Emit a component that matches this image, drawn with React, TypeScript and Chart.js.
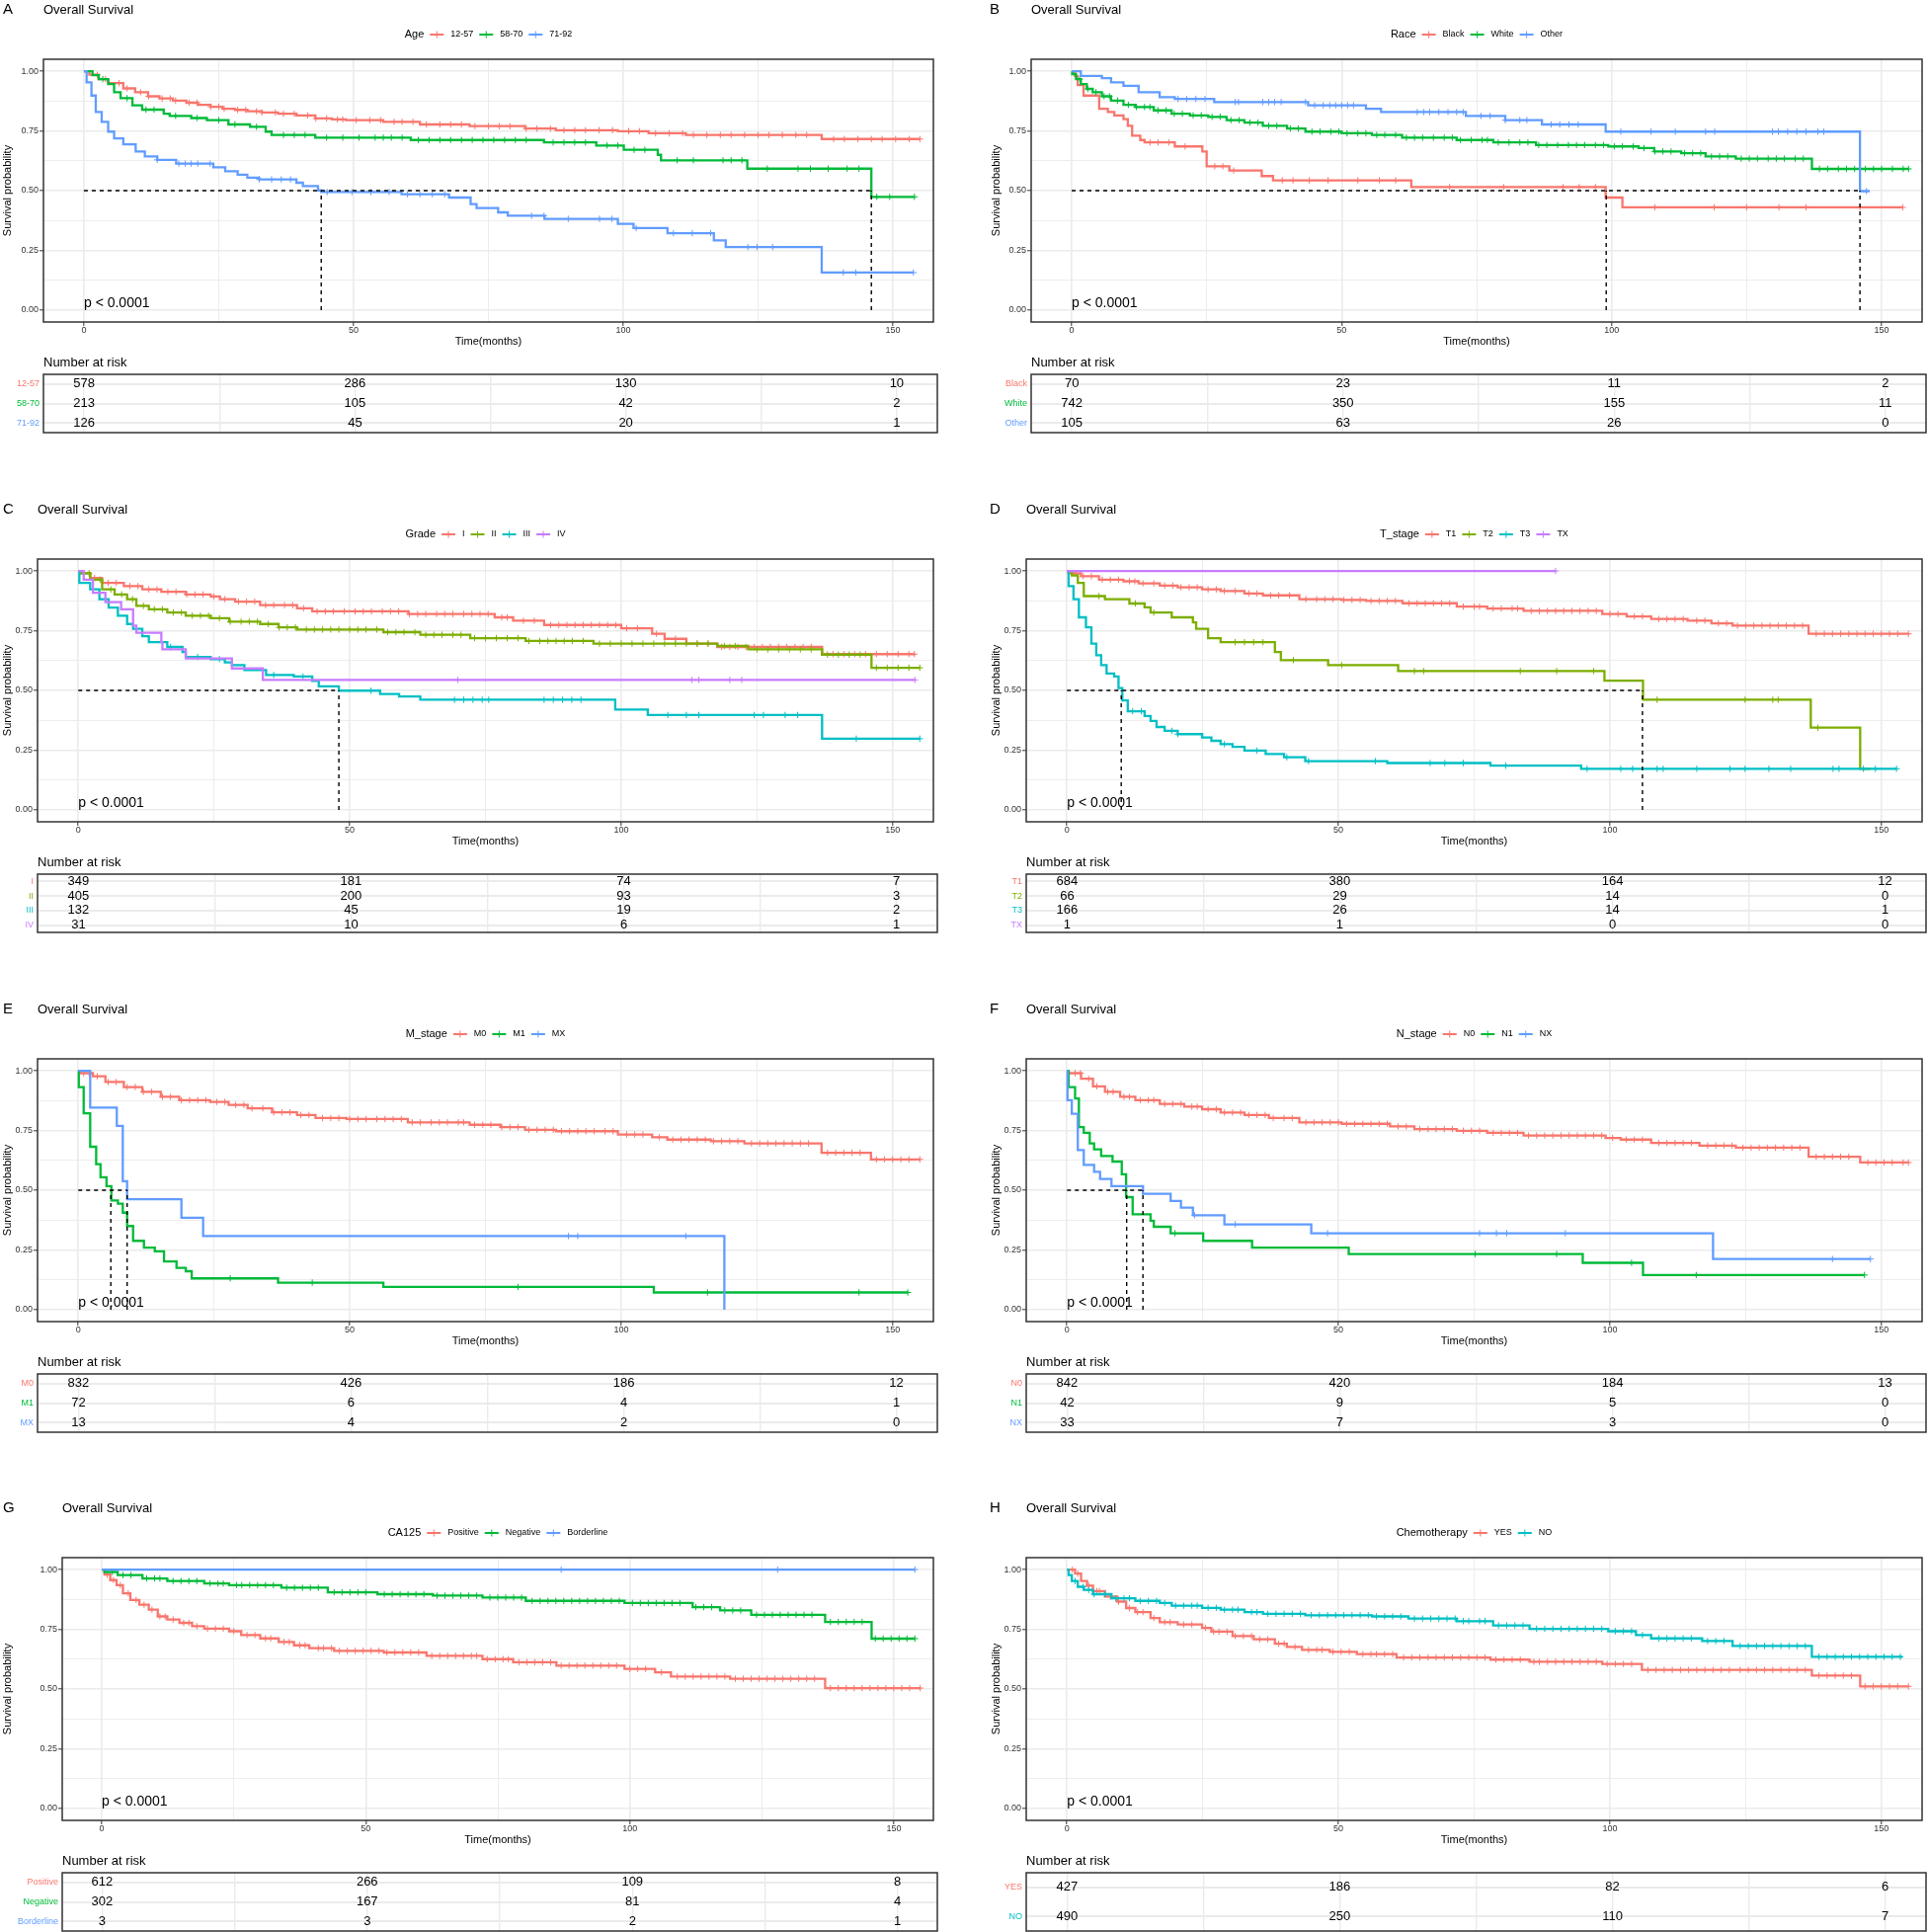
import React, { useEffect, useRef } from "react";
import { Chart, registerables } from "chart.js";

Chart.register(...registerables);

const FONT = "'Liberation Sans', Arial, Helvetica, sans-serif";
Chart.defaults.font.family = FONT;

// ---------- colours ----------
const HUE3 = ["#F8766D", "#00BA38", "#619CFF"];
const HUE4 = ["#F8766D", "#7CAE00", "#00BFC4", "#C77CFF"];
const HUE2 = ["#F8766D", "#00BFC4"];

// ---------- shared ticks ----------
const xTicks = [0, 25, 50, 75, 100, 125, 150];
const yTicks = [0, 0.125, 0.25, 0.375, 0.5, 0.625, 0.75, 0.875, 1];
const riskTimes = [0, 50, 100, 150];

// ---------- A: Age ----------
const ageGroups = ["12-57", "58-70", "71-92"];
const age1257T = [0, 1, 2.7, 4.5, 7.3, 9.5, 11.9, 14, 16.5, 19, 21.1, 23.5, 25.7, 28, 30.3, 33, 36, 39.4, 42.9, 46, 48.6, 55.5, 62.3, 71.5, 81.8, 87.5, 99, 104.7, 111.6, 136.8, 155];
const age1257S = [1, 0.985, 0.967, 0.95, 0.928, 0.912, 0.895, 0.886, 0.877, 0.868, 0.859, 0.851, 0.843, 0.838, 0.832, 0.827, 0.822, 0.815, 0.802, 0.798, 0.795, 0.788, 0.777, 0.77, 0.76, 0.753, 0.749, 0.74, 0.733, 0.716, 0.716];
const age1257C = [2.5, 4, 6.5, 8, 10.5, 12, 14.5, 16, 17, 19.5, 21, 23.5, 25, 26, 28.5, 30, 32, 33, 35.5, 37, 39, 41.5, 43, 45, 47, 48, 50.5, 53, 55, 57.5, 59, 61, 63.5, 66, 68, 70, 72.5, 75, 77, 79, 82, 84, 86.5, 89, 91, 93, 95.5, 98, 101, 103, 106, 108.5, 111, 113, 115.5, 118, 120, 122.5, 125, 127, 129.5, 132, 134, 139, 141, 143.5, 146, 148, 150.5, 153, 155];
const age5870T = [0, 1.6, 2.75, 4.5, 5.6, 6.8, 9, 10.8, 14.8, 15.9, 19.9, 22.8, 26.8, 30.8, 33.7, 34.8, 42.9, 60.6, 85.3, 95, 100.1, 106.4, 107, 123, 146, 154];
const age5870S = [1, 0.983, 0.967, 0.946, 0.912, 0.887, 0.857, 0.839, 0.822, 0.813, 0.804, 0.795, 0.777, 0.767, 0.747, 0.733, 0.722, 0.712, 0.702, 0.689, 0.671, 0.65, 0.627, 0.592, 0.474, 0.474];
const age5870C = [3.5, 8, 11.5, 13, 17, 21, 25, 28, 32, 37, 39, 41, 45, 48, 51, 54, 55.5, 57, 59, 62, 64, 66, 68, 70, 72, 74, 76, 78, 80, 82, 87, 89, 91, 93, 97, 99, 102, 104, 110, 113, 118.5, 120, 122, 126.7, 132.4, 134.7, 138, 141.5, 143.7, 147, 149.4, 154];
const age7192T = [0, 0.5, 1.4, 2.2, 3.3, 4.5, 5.6, 7.3, 9.6, 11.3, 13.6, 17.1, 24, 26.2, 28.5, 30.3, 32.5, 39.4, 40.6, 43.4, 44, 58.9, 67.7, 71.7, 72.8, 76.8, 78.6, 85.4, 99, 101.9, 108.2, 116.8, 119, 136.8, 153.8];
const age7192S = [1, 0.953, 0.898, 0.829, 0.788, 0.747, 0.719, 0.694, 0.664, 0.643, 0.629, 0.613, 0.598, 0.581, 0.567, 0.554, 0.547, 0.533, 0.519, 0.501, 0.494, 0.485, 0.471, 0.444, 0.427, 0.409, 0.395, 0.382, 0.361, 0.343, 0.322, 0.292, 0.264, 0.157, 0.157];
const age7192C = [13.6, 17.6, 18.8, 19.9, 21.1, 23.4, 32.5, 34.8, 36.6, 38.3, 45.1, 49.7, 53.2, 56.6, 60, 62.3, 64.6, 66.9, 83, 85.3, 89.8, 95.6, 97.9, 102.4, 109.3, 112.8, 116.2, 123.1, 124.8, 127.7, 140.8, 143.1, 153.8];
const ageRisk = [[578, 286, 130, 10], [213, 105, 42, 2], [126, 45, 20, 1]];
const ageMedians = [44, 146];

// ---------- B: Race ----------
const raceGroups = ["Black", "White", "Other"];
const raceBlackT = [0, 0.6, 1.1, 2.2, 5.1, 6.7, 7.9, 9.6, 10.4, 11.2, 12.7, 13.5, 19.1, 24.2, 25, 29.2, 35.2, 37.3, 62.9, 98.9, 102, 153.9];
const raceBlackS = [1, 0.98, 0.942, 0.898, 0.843, 0.829, 0.815, 0.799, 0.771, 0.73, 0.712, 0.702, 0.685, 0.664, 0.602, 0.584, 0.561, 0.543, 0.515, 0.471, 0.43, 0.43];
const raceBlackC = [14.5, 16, 18, 21, 26.5, 28, 30, 39, 41, 44, 47.5, 53, 57, 60, 70, 80, 91, 94, 97, 108, 119, 125, 131, 136, 146, 153.9];
const raceWhiteT = [0, 0.1, 0.8, 1.7, 2.8, 3.9, 5.6, 7.3, 9.6, 11.8, 15.2, 18.5, 21.9, 25.3, 28.7, 32, 35.4, 39.9, 43.3, 50, 55.6, 61.2, 71.3, 78.1, 86, 99.4, 105, 107.9, 112.9, 117.4, 123, 137.1, 155];
const raceWhiteS = [1, 0.988, 0.967, 0.946, 0.926, 0.912, 0.895, 0.877, 0.859, 0.85, 0.836, 0.822, 0.815, 0.809, 0.795, 0.785, 0.771, 0.76, 0.747, 0.74, 0.733, 0.722, 0.712, 0.702, 0.691, 0.685, 0.678, 0.664, 0.657, 0.643, 0.634, 0.591, 0.591];
const raceWhiteC = [1.5, 3, 4.5, 6, 7, 8.5, 10.5, 12, 13.5, 14.5, 16, 17.5, 19, 20.5, 22.5, 24, 26, 27.5, 29.5, 31, 33, 34.5, 36.5, 38, 40.5, 42, 44.5, 46, 48, 49.5, 51, 53, 54.5, 56.5, 58, 60, 62, 63.5, 65, 67, 69, 70.5, 72, 74, 76, 77, 79, 81, 83, 84.5, 86.5, 88, 90, 92, 93.5, 95, 97, 98.5, 100.5, 102, 104, 106, 108, 109.5, 111, 113.5, 115, 116.5, 118.5, 120, 121.5, 124, 125.5, 127, 129, 130.5, 132, 134, 135.5, 138.5, 140, 142, 143.5, 145, 147, 148.5, 150, 152, 154, 155];
const raceOtherT = [0, 1.7, 5.6, 7.3, 9.6, 12.4, 16.3, 19.1, 26.4, 43.8, 54.5, 57.3, 73, 80.3, 87.1, 98.9, 146, 147.8];
const raceOtherS = [1, 0.98, 0.971, 0.953, 0.939, 0.912, 0.891, 0.884, 0.871, 0.857, 0.843, 0.829, 0.813, 0.795, 0.777, 0.747, 0.498, 0.498];
const raceOtherC = [19.7, 21.3, 23, 24.7, 30.3, 30.9, 35.4, 36.5, 37.6, 38.8, 43.3, 45, 46.6, 47.8, 48.9, 50, 51.1, 52.2, 64, 65.2, 66.3, 68, 69.7, 71.3, 72.5, 75.8, 77.5, 80.3, 83, 84.3, 88.8, 90.4, 92.1, 93.8, 101.7, 107.3, 111.8, 117.4, 119.1, 129.8, 130.9, 132.6, 134.3, 136, 138.2, 139.3, 147.2];
const raceRisk = [[70, 23, 11, 2], [742, 350, 155, 11], [105, 63, 26, 0]];
const raceMedians = [99, 146];

// ---------- C: Grade ----------
const gradeGroups = ["I", "II", "III", "IV"];
const gradeIT = [0, 0.5, 2.2, 4.4, 8.4, 11.8, 15.3, 19.8, 24.4, 26.1, 28.9, 33.5, 40.3, 43.1, 60.8, 76.7, 80.1, 85.8, 100, 105.7, 108, 112, 117.7, 137, 154.1];
const gradeIS = [1, 0.992, 0.971, 0.95, 0.937, 0.923, 0.913, 0.902, 0.893, 0.882, 0.872, 0.857, 0.844, 0.831, 0.82, 0.806, 0.792, 0.774, 0.76, 0.737, 0.716, 0.696, 0.682, 0.652, 0.652];
const gradeIC = [3, 5.5, 7, 9.5, 11, 13, 14.5, 16.5, 18, 20, 21.5, 23, 25, 27, 29.5, 31, 32.5, 34.5, 36, 38, 39.5, 41.5, 44, 45.5, 47, 49, 51, 52.5, 54, 56, 57.5, 59, 61, 62.5, 64, 66, 67.5, 69, 71, 72.5, 74, 75.5, 78, 79, 82, 84, 87, 88.5, 90, 91.5, 93, 94.5, 96, 97.5, 99, 101, 103, 106.5, 110, 114, 116, 118.5, 120, 121.5, 123, 124.5, 126, 127.5, 129, 130.5, 132, 133.5, 135, 139, 141, 143, 145, 147, 149, 151, 153, 154];
const gradeIIT = [0, 0.5, 2.2, 4.4, 6.7, 9, 10.7, 13, 16.4, 19.8, 24.4, 27.8, 33.5, 36.9, 40.3, 56.2, 63, 72.2, 82.4, 94.9, 117.7, 123.4, 137, 146.1, 155];
const gradeIIS = [1, 0.99, 0.964, 0.923, 0.902, 0.882, 0.854, 0.84, 0.826, 0.813, 0.802, 0.788, 0.778, 0.764, 0.755, 0.744, 0.733, 0.719, 0.707, 0.696, 0.686, 0.672, 0.65, 0.595, 0.595];
const gradeIIC = [2, 4, 6, 8, 10, 12, 14, 15.5, 17.5, 19, 21, 22.5, 24, 26, 28, 30, 31.5, 33, 35, 37, 38.5, 40, 42, 43.5, 45, 46.5, 48, 50, 51.5, 53, 55, 57, 58.5, 60, 62, 64, 65.5, 67, 69, 70.5, 73, 75, 77, 79, 81, 83, 85, 86.5, 88, 89.5, 91, 93, 96, 98, 100, 102, 104, 106, 108, 110, 112, 114, 116, 119, 121, 125, 127, 129, 131, 133, 135, 138, 140, 142, 144, 147, 149, 151, 153, 155];
const gradeIIIT = [0, 0.2, 2.2, 3.9, 5.6, 7.3, 9, 10.1, 11.8, 13, 16.4, 19.2, 19.8, 24.4, 27, 28.3, 30.6, 34.6, 39.7, 43.1, 44.3, 48, 55.6, 59.1, 63, 98.9, 104.9, 137, 155];
const gradeIIIS = [1, 0.95, 0.923, 0.882, 0.847, 0.813, 0.778, 0.758, 0.727, 0.702, 0.682, 0.661, 0.64, 0.631, 0.617, 0.606, 0.585, 0.565, 0.558, 0.54, 0.517, 0.499, 0.485, 0.475, 0.461, 0.42, 0.397, 0.298, 0.298];
const gradeIIIC = [17, 22, 26, 36, 41.4, 53.9, 69.3, 71, 72.7, 74.4, 75.6, 85.8, 87.5, 89.2, 90.9, 92.6, 108.6, 112, 114.3, 124.5, 126.2, 130.2, 132.5, 143.3, 155];
const gradeIVT = [0, 1, 2.7, 5, 7.9, 10.1, 10.7, 15.3, 15.5, 19.8, 28.3, 34, 154.1];
const gradeIVS = [1, 0.964, 0.909, 0.87, 0.84, 0.771, 0.741, 0.702, 0.672, 0.634, 0.592, 0.544, 0.544];
const gradeIVC = [69.9, 113, 114.3, 120, 122.2, 154.1];
const gradeRisk = [[349, 181, 74, 7], [405, 200, 93, 3], [132, 45, 19, 2], [31, 10, 6, 1]];
const gradeMedians = [48];

// ---------- D: T stage ----------
const tGroups = ["T1", "T2", "T3", "TX"];
const t1T = [0, 0.3, 2.6, 5.9, 10.4, 13.2, 17.1, 20.4, 24.9, 28.3, 32.7, 36.1, 42.8, 50.6, 55.1, 61.8, 71.8, 77.4, 84.1, 98.6, 103.1, 107.6, 114.3, 118.7, 122.6, 136.6, 155];
const t1S = [1, 0.99, 0.978, 0.964, 0.957, 0.948, 0.939, 0.932, 0.923, 0.916, 0.906, 0.898, 0.882, 0.879, 0.875, 0.865, 0.851, 0.843, 0.833, 0.82, 0.81, 0.799, 0.792, 0.781, 0.771, 0.737, 0.737];
const t1C = [1.5, 3, 4.5, 6.5, 8, 9.5, 11.5, 12.5, 14, 16, 18, 19.5, 21, 22.5, 24, 26, 27.5, 29, 31, 33.5, 35, 37.5, 39, 41, 44, 46, 47.5, 49, 51, 52.5, 54, 56, 57.5, 59, 60.5, 63, 64.5, 66, 67.5, 69, 70.5, 73, 75, 76, 78.5, 80, 82, 83, 85.5, 87, 88.5, 90, 91.5, 93, 94.5, 96, 97.5, 100, 101.5, 104.5, 106, 109, 110.5, 112, 113.5, 116, 117.5, 120, 121.5, 123.5, 125, 126.5, 128, 129.5, 131, 132.5, 134, 135.5, 138, 139.5, 141, 142.5, 144, 145.5, 147, 148.5, 150, 151.5, 153, 155];
const t2T = [0, 0.9, 2, 3.1, 7, 11.5, 14.3, 15.4, 19.3, 23.2, 23.8, 26, 28.3, 38.3, 39.4, 48.1, 61, 99, 106.1, 137, 146.1, 148];
const t2S = [1, 0.981, 0.95, 0.895, 0.882, 0.864, 0.848, 0.826, 0.806, 0.785, 0.758, 0.719, 0.702, 0.661, 0.627, 0.606, 0.581, 0.541, 0.461, 0.344, 0.172, 0.172];
const t2C = [5.9, 12.6, 16, 31, 32.7, 34.4, 36.1, 41.7, 50.6, 64, 65.7, 83.5, 90.2, 97, 108.7, 124.9, 130, 131, 138.3];
const t3T = [0, 0.3, 1.2, 2.2, 3.5, 4.5, 5.4, 6.3, 7.3, 8.7, 9.5, 10.2, 11.2, 14.3, 15.4, 16.5, 18, 20.4, 24.9, 26.6, 28.3, 30.5, 32.7, 36.6, 40, 43.9, 59, 78, 94.7, 152.8];
const t3S = [1, 0.937, 0.882, 0.806, 0.764, 0.696, 0.647, 0.606, 0.571, 0.558, 0.51, 0.458, 0.413, 0.393, 0.372, 0.347, 0.331, 0.317, 0.303, 0.289, 0.275, 0.264, 0.248, 0.234, 0.22, 0.204, 0.196, 0.185, 0.172, 0.172];
const t3C = [12.1, 13.7, 19.3, 20.4, 29, 35, 40.5, 44.5, 56.8, 66.9, 69.6, 73, 80.8, 95.8, 102, 104.2, 108.7, 109.8, 116, 122.1, 124.9, 129.3, 133.3, 141.1, 142.2, 146.7, 148.9, 152.8];
const txT = [0, 90];
const txS = [1, 1];
const txC = [90];
const tRisk = [[684, 380, 164, 12], [66, 29, 14, 0], [166, 26, 14, 1], [1, 1, 0, 0]];
const tMedians = [10, 106];

// ---------- E: M stage ----------
const mGroups = ["M0", "M1", "MX"];
const m0T = [0, 0.4, 2.7, 5, 8.4, 11.8, 15.2, 18.6, 24.3, 27.7, 31.2, 35.7, 40.3, 43.7, 49.4, 60.7, 72.1, 77.8, 82.3, 88, 99.4, 105.7, 108.5, 116.5, 122.7, 136.9, 146, 155.1];
const m0S = [1, 0.99, 0.977, 0.953, 0.932, 0.912, 0.891, 0.877, 0.87, 0.857, 0.843, 0.826, 0.815, 0.802, 0.798, 0.784, 0.774, 0.764, 0.753, 0.747, 0.733, 0.722, 0.712, 0.705, 0.696, 0.657, 0.629, 0.629];
const m0C = [1, 2, 3.5, 5.5, 7, 9, 10.5, 12, 13.5, 15.5, 17, 19, 20.5, 22, 23.5, 25.5, 27, 29, 30.5, 32, 34, 36, 37.5, 39, 41, 42.5, 45, 46.5, 48, 50, 51.5, 53, 55, 56.5, 58, 59.5, 61.5, 63, 65, 66.5, 68, 70, 71, 73, 74.5, 76, 78, 79.5, 81, 83, 84.5, 86, 87.5, 89, 90.5, 92, 93.5, 95, 97, 98.5, 101, 102.5, 104, 107, 109.5, 111, 112.5, 114, 115.5, 117, 118.5, 120, 121.5, 124, 125.5, 127, 128.5, 130, 131.5, 133, 134.5, 138, 139.5, 141, 142.5, 144, 147, 148.5, 150, 151.5, 153, 155];
const m1T = [0, 0.1, 1, 2.2, 3.3, 4.1, 5.2, 6.1, 7.3, 8.2, 9, 10.1, 12.1, 14.1, 15.8, 18.1, 19.8, 20.9, 36.8, 56.2, 106, 152.8];
const m1S = [1, 0.932, 0.822, 0.682, 0.609, 0.554, 0.517, 0.457, 0.444, 0.406, 0.35, 0.288, 0.26, 0.244, 0.202, 0.175, 0.161, 0.131, 0.113, 0.095, 0.072, 0.072];
const m1C = [28, 43.1, 81, 115.9, 143.8, 152.8];
const mxT = [0, 2.2, 7.1, 8.2, 9, 19, 23, 119];
const mxS = [1, 0.846, 0.769, 0.538, 0.462, 0.385, 0.308, 0];
const mxC = [90.3, 92, 111.9];
const mRisk = [[832, 426, 186, 12], [72, 6, 4, 1], [13, 4, 2, 0]];
const mMedians = [6, 9];

// ---------- F: N stage ----------
const nGroups = ["N0", "N1", "NX"];
const n0T = [0, 0.3, 2.6, 4.8, 7, 9.8, 12.6, 17.1, 21.6, 24.9, 28.3, 32.7, 37.2, 42.8, 50.6, 59.5, 64, 71.8, 77.4, 84.1, 99.2, 102, 107.6, 116.5, 123.2, 136.6, 146.1, 155];
const n0S = [1, 0.99, 0.967, 0.935, 0.912, 0.891, 0.877, 0.861, 0.85, 0.839, 0.825, 0.815, 0.802, 0.784, 0.778, 0.767, 0.756, 0.749, 0.74, 0.729, 0.719, 0.712, 0.698, 0.687, 0.678, 0.64, 0.616, 0.616];
const n0C = [1.5, 2.5, 4, 5.5, 7.5, 8.5, 10.5, 11.5, 13.5, 15, 16, 18, 19.5, 21, 23, 24, 26, 27.5, 29, 30.5, 32, 33.5, 35, 36.5, 38, 40, 41.5, 44, 45.5, 47, 48.5, 50, 51.5, 53, 54.5, 56, 57.5, 59, 61, 62.5, 65, 66.5, 68, 69.5, 71, 73, 74.5, 76, 78.5, 80, 81.5, 83, 85, 86.5, 88, 89.5, 91, 92.5, 94, 95.5, 97, 98.5, 100.5, 103, 104.5, 106, 109, 110.5, 112, 113.5, 115, 118, 119.5, 121, 122.5, 124.5, 126, 127.5, 129, 130.5, 132, 133.5, 135, 138, 139.5, 141, 142.5, 144, 147.5, 149, 150.5, 152, 154, 155];
const n1T = [0, 0.3, 1.5, 2.2, 3.1, 4.2, 5, 6.3, 8.4, 10.1, 10.9, 12.1, 15.4, 16, 19.1, 25.1, 34.1, 51.9, 95, 106.1, 146.9];
const n1S = [1, 0.932, 0.884, 0.764, 0.74, 0.696, 0.671, 0.643, 0.62, 0.567, 0.471, 0.399, 0.372, 0.347, 0.32, 0.288, 0.26, 0.233, 0.196, 0.145, 0.145];
const n1C = [19.9, 75.2, 90.2, 104, 115.9, 146.9];
const nxT = [0, 0.1, 0.9, 2, 3.1, 5, 6.1, 8.2, 14, 19.1, 21, 23.2, 29, 45, 119, 148];
const nxS = [1, 0.877, 0.82, 0.668, 0.606, 0.577, 0.547, 0.517, 0.485, 0.455, 0.427, 0.395, 0.357, 0.32, 0.212, 0.212];
const nxC = [23.5, 31, 48, 76, 79.1, 81, 91.8, 141, 148];
const nRisk = [[842, 420, 184, 13], [42, 9, 5, 0], [33, 7, 3, 0]];
const nMedians = [11, 14];

// ---------- G: CA125 ----------
const caGroups = ["Positive", "Negative", "Borderline"];
const posT = [0, 0.5, 1.6, 2.8, 4, 5.4, 7.1, 8.9, 10.6, 12.4, 14.7, 17.1, 19.4, 24.1, 26.4, 30, 33.5, 36.4, 39.3, 44, 53.4, 61.5, 72.1, 77.9, 86.1, 99, 104.8, 107.8, 119, 137, 155.1];
const posS = [1, 0.979, 0.956, 0.935, 0.901, 0.873, 0.853, 0.832, 0.804, 0.791, 0.777, 0.763, 0.753, 0.742, 0.726, 0.712, 0.697, 0.683, 0.671, 0.66, 0.653, 0.639, 0.625, 0.612, 0.598, 0.584, 0.57, 0.552, 0.543, 0.504, 0.504];
const posC = [1, 2.2, 3.5, 5, 6.5, 8, 9.5, 11, 12, 13.5, 15.5, 16.5, 18, 20, 21.5, 23, 25, 27.5, 29, 31, 32, 34.5, 35.5, 37.5, 38.5, 41, 42, 43.5, 45, 46.5, 48, 49.5, 51, 52.5, 54, 55.5, 57, 58.5, 60, 62.5, 64, 65.5, 67, 68.5, 70, 71, 73, 74.5, 76, 77, 79, 80.5, 82, 83.5, 85, 87, 88.5, 90, 91.5, 93, 94.5, 96, 97.5, 100, 101.5, 103, 106, 109, 110.5, 112, 113.5, 115, 116.5, 118, 120, 121.5, 123, 124.5, 126, 127.5, 129, 130.5, 132, 133.5, 135, 138, 139.5, 141, 142.5, 144, 145.5, 147, 148.5, 150, 151.5, 153, 155];
const negT = [0, 0.5, 3, 7.7, 12.4, 19.4, 24.1, 34, 42.8, 52.2, 62.7, 72.1, 80.3, 99, 111.9, 117.1, 123, 137, 145.8, 154];
const negS = [1, 0.99, 0.977, 0.963, 0.952, 0.942, 0.935, 0.924, 0.905, 0.897, 0.891, 0.883, 0.869, 0.86, 0.843, 0.829, 0.811, 0.781, 0.711, 0.711];
const negC = [2, 4, 5.5, 8.5, 10, 11, 13.5, 15, 16.5, 18, 20.5, 22, 23, 25.5, 26.5, 28, 29.5, 31, 32.5, 35, 36.5, 38, 39.5, 41, 44, 45.5, 47, 48.5, 50, 53.5, 55, 56.5, 58, 59.5, 61, 63.5, 65, 66.5, 68, 69.5, 71, 73.5, 75, 76.5, 78, 79.5, 81.5, 83, 84.5, 86, 87.5, 89, 90.5, 92, 93.5, 95, 96.5, 98, 100.5, 102, 103.5, 105, 106.5, 108, 109.5, 112.5, 114, 115.5, 118, 119.5, 121, 124, 125.5, 127, 128.5, 130, 131.5, 133, 134.5, 138, 139.5, 141, 142.5, 144, 146.5, 148, 149.5, 151, 152.5, 154];
const bordT = [0, 154];
const bordS = [1, 1];
const bordC = [87, 128, 154];
const caRisk = [[612, 266, 109, 8], [302, 167, 81, 4], [3, 3, 2, 1]];
const caMedians: number[] = [];

// ---------- H: Chemotherapy ----------
const chemoGroups = ["YES", "NO"];
const yesT = [0, 1.5, 2.6, 3.7, 4.8, 7, 9.3, 10.9, 12.6, 15.4, 17.1, 20.4, 24.9, 26.6, 30.5, 34.4, 38.3, 40.5, 43.3, 48.4, 53.4, 60.7, 78, 85.2, 98.6, 105.9, 137.2, 146.1, 155];
const yesS = [1, 0.983, 0.952, 0.933, 0.91, 0.887, 0.866, 0.839, 0.822, 0.797, 0.78, 0.77, 0.756, 0.74, 0.722, 0.708, 0.69, 0.676, 0.664, 0.656, 0.646, 0.632, 0.623, 0.614, 0.605, 0.58, 0.556, 0.511, 0.511];
const yesC = [1, 2, 4, 5.5, 6, 8, 9.5, 11.5, 13, 14, 16, 18, 19, 21.5, 23, 25.5, 27, 28, 29.5, 31, 32.5, 34, 35.5, 37, 39, 40, 42, 44.5, 46, 47, 49, 50.5, 52, 54.5, 56, 57, 58.5, 60, 62, 63.5, 65, 66.5, 68, 69.5, 71, 72.5, 74, 75.5, 77, 79, 80.5, 82, 83.5, 86, 87, 88.5, 90, 91.5, 93, 94.5, 96, 97.5, 99.5, 101, 102.5, 104, 107, 108.5, 110, 111.5, 113, 114.5, 116, 117.5, 119, 120.5, 122, 124, 125.5, 127, 128.5, 130, 131.5, 133, 134.5, 136, 138.5, 140, 141.5, 143, 144.5, 147, 148.5, 150, 151.5, 153, 155];
const noT = [0, 0.3, 0.9, 2, 3.1, 4.8, 8.2, 12.6, 17.1, 19.3, 24.9, 28.3, 32.7, 36.1, 43.9, 56.2, 62.9, 71.8, 78.5, 85.2, 99.7, 104.8, 107.6, 117, 122.6, 137.2, 153.9];
const noS = [1, 0.977, 0.952, 0.928, 0.915, 0.897, 0.88, 0.869, 0.86, 0.849, 0.84, 0.832, 0.822, 0.815, 0.809, 0.804, 0.795, 0.784, 0.766, 0.752, 0.742, 0.726, 0.712, 0.701, 0.68, 0.635, 0.635];
const noC = [1.5, 3, 4, 5, 7, 9, 10.5, 11.5, 13.5, 15, 16.5, 18, 20, 21.5, 23, 24, 26, 27.5, 29, 30.5, 31.5, 34, 35, 37, 38.5, 40, 41.5, 43, 45, 46.5, 48, 49.5, 51, 52.5, 54, 55.5, 57, 58.5, 60, 61.5, 64, 65.5, 67, 68.5, 70, 71.5, 73, 74, 76, 77, 79.5, 81, 82.5, 84, 86.5, 88, 89.5, 91, 92.5, 94, 95.5, 97, 98.5, 101, 102.5, 104, 106, 109, 110.5, 112, 113.5, 115, 118, 119.5, 121, 124, 125.5, 127, 128.5, 130, 131.5, 133, 134.5, 136, 138.5, 140, 141.5, 143, 144.5, 146, 147.5, 149, 150.5, 152, 153.5];
const chemoRisk = [[427, 186, 82, 6], [490, 250, 110, 7]];
const chemoMedians: number[] = [];

// ---------- layout ----------
const COL_X0 = [0, 1001];
const COL_RIGHT = [949, 1950];
const ROW_TOP = [60, 566, 1072, 1577];
const PLOT_H = 266;
const KM_PAD_TOP = 60;
const KM_AXIS_H = 30;
const TB_GAP = 30;
const TB_PAD_TOP = 23;
const TB_H = 59;

type Group = { name: string; color: string; t: number[]; s: number[]; c: number[]; risk: number[] };
type PanelDef = { letter: string; legendTitle: string; groups: Group[]; medians: number[]; col: number; row: number; plotLeft: number };

function mk(names: string[], colors: string[], ts: number[][], ss: number[][], cs: number[][], risks: number[][]): Group[] {
  return names.map((n, i) => ({ name: n, color: colors[i], t: ts[i], s: ss[i], c: cs[i], risk: risks[i] }));
}

const PANELS: PanelDef[] = [
  { letter: "A", legendTitle: "Age", col: 0, row: 0, plotLeft: 44, medians: ageMedians,
    groups: mk(ageGroups, HUE3, [age1257T, age5870T, age7192T], [age1257S, age5870S, age7192S], [age1257C, age5870C, age7192C], ageRisk) },
  { letter: "B", legendTitle: "Race", col: 1, row: 0, plotLeft: 1044, medians: raceMedians,
    groups: mk(raceGroups, HUE3, [raceBlackT, raceWhiteT, raceOtherT], [raceBlackS, raceWhiteS, raceOtherS], [raceBlackC, raceWhiteC, raceOtherC], raceRisk) },
  { letter: "C", legendTitle: "Grade", col: 0, row: 1, plotLeft: 38, medians: gradeMedians,
    groups: mk(gradeGroups, HUE4, [gradeIT, gradeIIT, gradeIIIT, gradeIVT], [gradeIS, gradeIIS, gradeIIIS, gradeIVS], [gradeIC, gradeIIC, gradeIIIC, gradeIVC], gradeRisk) },
  { letter: "D", legendTitle: "T_stage", col: 1, row: 1, plotLeft: 1039, medians: tMedians,
    groups: mk(tGroups, HUE4, [t1T, t2T, t3T, txT], [t1S, t2S, t3S, txS], [t1C, t2C, t3C, txC], tRisk) },
  { letter: "E", legendTitle: "M_stage", col: 0, row: 2, plotLeft: 38, medians: mMedians,
    groups: mk(mGroups, HUE3, [m0T, m1T, mxT], [m0S, m1S, mxS], [m0C, m1C, mxC], mRisk) },
  { letter: "F", legendTitle: "N_stage", col: 1, row: 2, plotLeft: 1039, medians: nMedians,
    groups: mk(nGroups, HUE3, [n0T, n1T, nxT], [n0S, n1S, nxS], [n0C, n1C, nxC], nRisk) },
  { letter: "G", legendTitle: "CA125", col: 0, row: 3, plotLeft: 63, medians: caMedians,
    groups: mk(caGroups, HUE3, [posT, negT, bordT], [posS, negS, bordS], [posC, negC, bordC], caRisk) },
  { letter: "H", legendTitle: "Chemotherapy", col: 1, row: 3, plotLeft: 1039, medians: chemoMedians,
    groups: mk(chemoGroups, HUE2, [yesT, noT], [yesS, noS], [yesC, noC], chemoRisk) },
];

function stepAt(t: number[], s: number[], c: number): number {
  let v = s[0];
  for (let i = 0; i < t.length; i++) {
    if (t[i] <= c) v = s[i];
    else break;
  }
  return v;
}

const isMajorX = (v: number) => Math.round(v) % 50 === 0;
const isMajorY = (v: number) => Math.round(v * 1000) % 250 === 0;

function makeKmDecor(p: PanelDef) {
  return {
    id: "kmDecor",
    afterDraw(chart: any) {
      const ctx = chart.ctx as CanvasRenderingContext2D;
      const a = chart.chartArea;
      const xs = chart.scales.x;
      const ys = chart.scales.y;
      const x0 = COL_X0[p.col];
      ctx.save();
      ctx.strokeStyle = "#333333";
      ctx.lineWidth = 1.5;
      ctx.strokeRect(a.left, a.top, a.right - a.left, a.bottom - a.top);
      ctx.fillStyle = "#000";
      ctx.textAlign = "left";
      ctx.textBaseline = "middle";
      ctx.font = `14px ${FONT}`;
      ctx.fillText("p < 0.0001", xs.getPixelForValue(0), ys.getPixelForValue(0.027));
      ctx.font = `15px ${FONT}`;
      ctx.fillText(p.letter, (p.col === 0 ? 3 : 1002) - x0, a.top - 50);
      ctx.font = `13px ${FONT}`;
      ctx.fillText("Overall Survival", a.left, a.top - 50);
      const cy = a.top - 25;
      const cx = (a.left + a.right) / 2;
      ctx.font = `11px ${FONT}`;
      const tw = ctx.measureText(p.legendTitle).width;
      ctx.font = `9px ${FONT}`;
      const lw = p.groups.map((g) => ctx.measureText(g.name).width);
      const SYM = 14, G1 = 6, G2 = 7;
      let total = tw;
      lw.forEach((w) => (total += G1 + SYM + G2 + w));
      let x = cx - total / 2;
      ctx.font = `11px ${FONT}`;
      ctx.fillStyle = "#000";
      ctx.fillText(p.legendTitle, x, cy);
      x += tw;
      ctx.font = `9px ${FONT}`;
      p.groups.forEach((g, i) => {
        x += G1;
        ctx.strokeStyle = g.color;
        ctx.lineWidth = 2;
        ctx.beginPath();
        ctx.moveTo(x, cy);
        ctx.lineTo(x + SYM, cy);
        ctx.stroke();
        ctx.lineWidth = 1;
        ctx.beginPath();
        ctx.moveTo(x + SYM / 2, cy - 3.5);
        ctx.lineTo(x + SYM / 2, cy + 3.5);
        ctx.stroke();
        x += SYM + G2;
        ctx.fillStyle = "#000";
        ctx.fillText(g.name, x, cy);
        x += lw[i];
      });
      ctx.restore();
    },
  };
}

function makeRiskDecor(p: PanelDef) {
  return {
    id: "riskDecor",
    afterDraw(chart: any) {
      const ctx = chart.ctx as CanvasRenderingContext2D;
      const a = chart.chartArea;
      ctx.save();
      ctx.fillStyle = "#000";
      ctx.textAlign = "center";
      ctx.textBaseline = "middle";
      ctx.font = `13px ${FONT}`;
      p.groups.forEach((g, i) => {
        const meta = chart.getDatasetMeta(i);
        meta.data.forEach((pt: any, j: number) => {
          ctx.fillText(String(g.risk[j]), pt.x, pt.y);
        });
      });
      ctx.strokeStyle = "#333333";
      ctx.lineWidth = 1.5;
      ctx.strokeRect(a.left, a.top, a.right - a.left, a.bottom - a.top);
      ctx.textAlign = "left";
      ctx.fillText("Number at risk", a.left, a.top - 11.5);
      ctx.restore();
    },
  };
}

function xScaleBase() {
  return {
    type: "linear",
    min: -7.5,
    max: 157.5,
    afterBuildTicks: (s: any) => {
      s.ticks = xTicks.map((v) => ({ value: v }));
    },
    border: { display: false },
  };
}

function kmConfig(p: PanelDef): any {
  const x0 = COL_X0[p.col];
  const yW = p.plotLeft - x0;
  const datasets: any[] = [];
  p.groups.forEach((g, gi) => {
    datasets.push({
      data: g.t.map((t, i) => ({ x: t, y: g.s[i] })),
      borderColor: g.color,
      backgroundColor: g.color,
      borderWidth: 2.3,
      stepped: "before",
      pointRadius: 0,
      fill: false,
      order: 100 - gi * 2,
    });
    datasets.push({
      data: g.c.map((c) => ({ x: c, y: stepAt(g.t, g.s, c) })),
      showLine: false,
      pointStyle: "cross",
      pointRadius: 3.2,
      pointBorderColor: g.color,
      pointBorderWidth: 1,
      borderColor: g.color,
      backgroundColor: g.color,
      order: 99 - gi * 2,
    });
  });
  if (p.medians.length) {
    const mx = Math.max(...p.medians);
    const dash = { borderColor: "#000", borderWidth: 1.4, borderDash: [4, 4], pointRadius: 0, fill: false, order: 0 };
    datasets.push({ ...dash, data: [{ x: 0, y: 0.5 }, { x: mx, y: 0.5 }] });
    p.medians.forEach((m) => datasets.push({ ...dash, data: [{ x: m, y: 0 }, { x: m, y: 0.5 }] }));
  }
  return {
    type: "line",
    data: { datasets },
    options: {
      responsive: false,
      animation: false,
      devicePixelRatio: 1,
      events: [],
      layout: { padding: { top: KM_PAD_TOP, right: 1, left: 0, bottom: 0 } },
      plugins: { legend: { display: false }, tooltip: { enabled: false }, title: { display: false } },
      scales: {
        x: {
          ...xScaleBase(),
          afterFit: (s: any) => {
            s.height = KM_AXIS_H;
          },
          grid: {
            color: "#EBEBEB",
            lineWidth: (c: any) => (c.tick && isMajorX(c.tick.value) ? 1.6 : 0.9),
            tickColor: (c: any) => (c.tick && isMajorX(c.tick.value) ? "#333333" : "rgba(0,0,0,0)"),
            tickLength: 4,
            tickWidth: 1,
          },
          ticks: {
            autoSkip: false,
            maxRotation: 0,
            padding: 0,
            color: "#333333",
            font: { size: 9, lineHeight: 1 },
            callback: (v: number) => (isMajorX(v) ? String(v) : ""),
          },
          title: { display: true, text: "Time(months)", color: "#000", font: { size: 11 }, padding: { top: 0, bottom: 3 } },
        },
        y: {
          type: "linear",
          min: -0.05,
          max: 1.05,
          afterBuildTicks: (s: any) => {
            s.ticks = yTicks.map((v) => ({ value: v }));
          },
          afterFit: (s: any) => {
            s.width = yW;
          },
          border: { display: false },
          grid: {
            color: "#EBEBEB",
            lineWidth: (c: any) => (c.tick && isMajorY(c.tick.value) ? 1.6 : 0.9),
            tickColor: (c: any) => (c.tick && isMajorY(c.tick.value) ? "#333333" : "rgba(0,0,0,0)"),
            tickLength: 4,
            tickWidth: 1,
          },
          ticks: {
            autoSkip: false,
            padding: 1,
            color: "#333333",
            font: { size: 9 },
            callback: (v: number) => (isMajorY(v) ? v.toFixed(2) : ""),
          },
          title: { display: true, text: "Survival probability", color: "#000", font: { size: 11 }, padding: { top: 1, bottom: 0 } },
        },
      },
    },
    plugins: [makeKmDecor(p)],
  };
}

function tableConfig(p: PanelDef): any {
  const x0 = COL_X0[p.col];
  const yW = p.plotLeft - x0;
  const names = p.groups.map((g) => g.name);
  const colors = p.groups.map((g) => g.color);
  return {
    type: "line",
    data: {
      datasets: p.groups.map((g) => ({
        data: riskTimes.map((t) => ({ x: t, y: g.name })),
        showLine: false,
        pointRadius: 0,
        borderColor: g.color,
      })),
    },
    options: {
      responsive: false,
      animation: false,
      devicePixelRatio: 1,
      events: [],
      layout: { padding: { top: TB_PAD_TOP, right: 1, left: 0, bottom: 1 } },
      plugins: { legend: { display: false }, tooltip: { enabled: false } },
      scales: {
        x: {
          ...xScaleBase(),
          afterFit: (s: any) => {
            s.height = 0;
            s.paddingLeft = 0;
            s.paddingRight = 0;
          },
          ticks: { display: false },
          grid: { color: "#EBEBEB", lineWidth: 1.4, drawTicks: false },
        },
        y: {
          type: "category",
          labels: names,
          offset: true,
          afterFit: (s: any) => {
            s.width = yW;
            s.paddingTop = 0;
            s.paddingBottom = 0;
          },
          border: { display: false },
          grid: { offset: false, color: "#EBEBEB", lineWidth: 2, drawTicks: false },
          ticks: {
            autoSkip: false,
            padding: 4,
            font: { size: 9 },
            color: (c: any) => colors[c.index] || "#000",
          },
        },
      },
    },
    plugins: [makeRiskDecor(p)],
  };
}

function Panel({ p }: { p: PanelDef }) {
  const kmRef = useRef<HTMLCanvasElement>(null);
  const tbRef = useRef<HTMLCanvasElement>(null);
  const x0 = COL_X0[p.col];
  const w = COL_RIGHT[p.col] + 1 - x0;
  const top = ROW_TOP[p.row];
  const kmH = KM_PAD_TOP + PLOT_H + KM_AXIS_H;
  const tbTop = top + PLOT_H + TB_GAP;
  const tbH = TB_PAD_TOP + TB_H + 1;
  useEffect(() => {
    const c1 = new Chart(kmRef.current as HTMLCanvasElement, kmConfig(p));
    const c2 = new Chart(tbRef.current as HTMLCanvasElement, tableConfig(p));
    return () => {
      c1.destroy();
      c2.destroy();
    };
  }, []);
  return (
    <>
      <canvas ref={kmRef} width={w} height={kmH} style={{ position: "absolute", left: x0, top: top - KM_PAD_TOP, width: w, height: kmH }} />
      <canvas ref={tbRef} width={w} height={tbH} style={{ position: "absolute", left: x0, top: tbTop, width: w, height: tbH }} />
    </>
  );
}

export default function App() {
  return (
    <div style={{ position: "absolute", left: 0, top: 0, width: 1952, height: 1956, overflow: "hidden", background: "#fff" }}>
      {PANELS.map((p) => (
        <Panel key={p.letter} p={p} />
      ))}
    </div>
  );
}
